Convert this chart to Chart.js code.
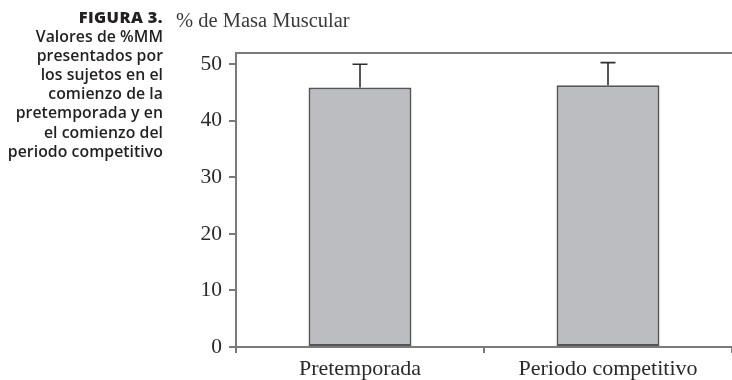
<!DOCTYPE html>
<html>
<head>
<meta charset="utf-8">
<script src="https://cdn.jsdelivr.net/npm/chart.js@4"></script>
<style>
  html, body { margin: 0; padding: 0; background: #fff; }
  #wrap { position: relative; width: 732px; height: 380px; overflow: hidden; }
  #chart { position: absolute; left: 0; top: 0; }
  #caption {
    position: absolute; left: 0; top: 7px; width: 163px;
    text-align: right; font-family: "Open Sans", "Noto Sans", sans-serif;
    font-weight: 600; font-size: 15.8px; line-height: 19.1px; color: #231f20;
    letter-spacing: 0.05px;
  }
  #caption .fig { font-weight: 800; font-size: 16.4px; letter-spacing: 0.4px; }
  #title {
    position: absolute; left: 176px; top: 9px;
    font-family: "Liberation Serif", "DejaVu Serif", serif;
    font-size: 20.5px; color: #3a3a3a; white-space: nowrap;
  }
</style>
</head>
<body>
<div id="wrap">
  <canvas id="chart" width="732" height="380"></canvas>
  <div id="caption"><span class="fig">FIGURA 3.</span><br>Valores de %MM<br>presentados por<br>los sujetos en el<br>comienzo de la<br>pretemporada y en<br>el comienzo del<br>periodo competitivo</div>
  <div id="title">% de Masa Muscular</div>
</div>
<script>
// Muscle mass percentage: mean and standard deviation per period
const categories = ['Pretemporada', 'Periodo competitivo'];
const meanValues = [45.9, 46.3];
const sdValues = [4.1, 4.0];
const yTicks = [0, 10, 20, 30, 40, 50];

const axisColor = '#7a7a7a';
const serif = '"Liberation Serif", "DejaVu Serif", serif';

// Upper-only error bars with a short cap
const errorBars = {
  id: 'errorBars',
  afterDatasetsDraw(chart) {
    const ctx = chart.ctx;
    const yScale = chart.scales.y;
    const meta = chart.getDatasetMeta(0);
    ctx.save();
    ctx.strokeStyle = '#2e2e2e';
    ctx.lineWidth = 1.6;
    meta.data.forEach((bar, i) => {
      const x = bar.x;
      const yTop = yScale.getPixelForValue(meanValues[i] + sdValues[i]);
      const yBar = yScale.getPixelForValue(meanValues[i]);
      ctx.beginPath();
      ctx.moveTo(x, yBar);
      ctx.lineTo(x, yTop);
      ctx.moveTo(x - 7.5, yTop);
      ctx.lineTo(x + 7.5, yTop);
      ctx.stroke();
    });
    ctx.restore();
  }
};

// Top edge of the plotting frame
const topFrame = {
  id: 'topFrame',
  afterDraw(chart) {
    const { ctx, chartArea } = chart;
    ctx.save();
    ctx.strokeStyle = axisColor;
    ctx.lineWidth = 2;
    ctx.beginPath();
    ctx.moveTo(chartArea.left - 1, chartArea.top);
    ctx.lineTo(chart.width, chartArea.top);
    ctx.stroke();
    ctx.restore();
  }
};

new Chart(document.getElementById('chart'), {
  type: 'bar',
  data: {
    labels: categories,
    datasets: [{
      data: meanValues,
      backgroundColor: '#bcbdc1',
      borderColor: '#555558',
      borderWidth: 2,
      borderSkipped: false,
      barPercentage: 0.415,
      categoryPercentage: 1.0
    }]
  },
  options: {
    responsive: false,
    animation: false,
    devicePixelRatio: 1,
    layout: { padding: { top: 53, right: 0, bottom: 0, left: 0 } },
    plugins: {
      legend: { display: false },
      tooltip: { enabled: false },
      title: { display: false }
    },
    scales: {
      x: {
        afterFit(scale) { scale.height = 33; },
        grid: {
          offset: true,
          drawOnChartArea: false,
          drawTicks: true,
          tickLength: 6,
          color: axisColor,
          lineWidth: 2
        },
        border: { display: true, color: axisColor, width: 2 },
        ticks: {
          padding: 3,
          color: '#2a2a2a',
          font: { family: serif, size: 22 }
        }
      },
      y: {
        min: 0,
        max: 52,
        afterFit(scale) { scale.width = 236; },
        afterBuildTicks(scale) { scale.ticks = yTicks.map(v => ({ value: v })); },
        grid: {
          drawOnChartArea: false,
          drawTicks: true,
          tickLength: 7,
          color: axisColor,
          lineWidth: 2
        },
        border: { display: true, color: axisColor, width: 2 },
        ticks: {
          padding: 7,
          color: '#2a2a2a',
          font: { family: serif, size: 21.5 }
        }
      }
    }
  },
  plugins: [errorBars, topFrame]
});
</script>
</body>
</html>
